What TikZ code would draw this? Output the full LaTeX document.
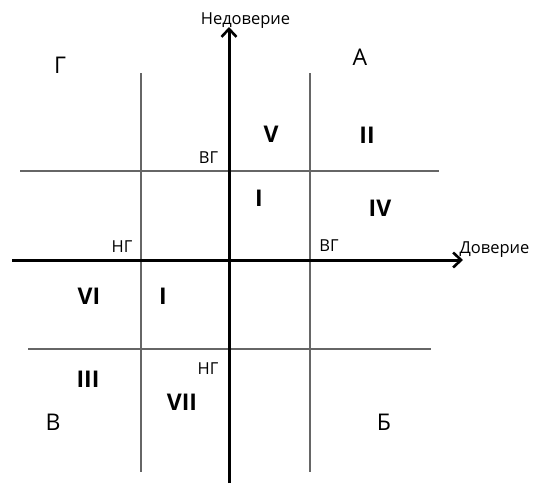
\documentclass[tikz,border=0pt]{standalone}
\usepackage{fontspec}
\setmainfont{Open Sans}
\usetikzlibrary{arrows.meta}

\begin{document}
\begin{tikzpicture}[
    x=1pt, y=-1pt,
    axis/.style={line width=3pt, -{Straight Barb[length=8pt, width=15pt, line width=2.6pt]}},
    gridline/.style={line width=1.1pt, black!60},
    small/.style={anchor=base, inner sep=0pt, font=\fontsize{16.5}{18}\selectfont},
    big/.style={anchor=base, inner sep=0pt, font=\fontsize{23}{26}\selectfont},
    num/.style={anchor=base, inner sep=0pt, font=\fontsize{23}{26}\selectfont\bfseries}
]
    \useasboundingbox (0,0) rectangle (535,483);

    % axes ends
    \coordinate (xfrom) at (12,260);
    \coordinate (xto) at (463,260);
    \coordinate (yfrom) at (229,483);
    \coordinate (yto) at (229,27);

    % grid ends
    \coordinate (up-l) at (20,171);
    \coordinate (up-r) at (439,171);
    \coordinate (lo-l) at (28,349);
    \coordinate (lo-r) at (431,349);
    \coordinate (le-t) at (141,73);
    \coordinate (le-b) at (141,472);
    \coordinate (ri-t) at (310,73);
    \coordinate (ri-b) at (310,472);

    \draw[gridline] (up-l) -- (up-r);
    \draw[gridline] (lo-l) -- (lo-r);
    \draw[gridline] (le-t) -- (le-b);
    \draw[gridline] (ri-t) -- (ri-b);

    \draw[axis] (xfrom) -- (xto);
    \draw[axis] (yfrom) -- (yto);

    % axis names
    \node[small] (distrust) at (245.5,24) {Недоверие};
    \node[small] (trust) at (494.5,253) {Доверие};

    % corner letters
    \node[big] (cA) at (360,65) {А};
    \node[big] (cB) at (384,430) {Б};
    \node[big] (cV) at (53,430) {В};
    \node[big] (cG) at (60,73) {Г};

    % boundary marks
    \node[small] (vg-y) at (208.5,163) {ВГ};
    \node[small] (ng-y) at (208,374) {НГ};
    \node[small] (ng-x) at (122,252) {НГ};
    \node[small] (vg-x) at (329,251) {ВГ};

    % zones
    \node[num] (z5) at (271,142) {V};
    \node[num] (z2) at (367,143) {II};
    \node[num] (z1a) at (259,206) {I};
    \node[num] (z4) at (380,216) {IV};
    \node[num] (z6) at (89,304) {VI};
    \node[num] (z1b) at (163,304) {I};
    \node[num] (z3) at (88,387) {III};
    \node[num] (z7) at (182,410) {VII};
\end{tikzpicture}
\end{document}
